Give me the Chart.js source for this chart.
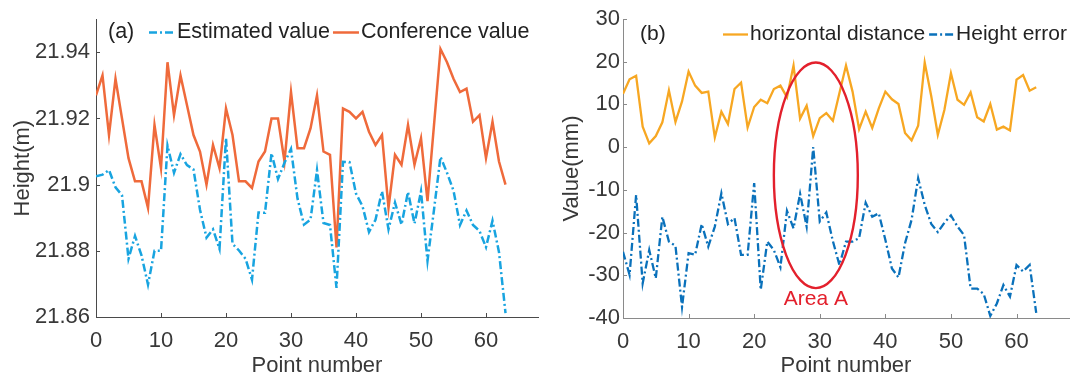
<!DOCTYPE html>
<html>
<head>
<meta charset="utf-8">
<script src="https://cdn.jsdelivr.net/npm/chart.js@4.4.0/dist/chart.umd.min.js"></script>
<style>
  html, body { margin: 0; padding: 0; background: #fff; }
  #wrap { position: relative; width: 1070px; height: 378px; overflow: hidden; }
  #chartA { position: absolute; left: 0; top: 0; }
  #chartB { position: absolute; left: 545px; top: 0; }
</style>
</head>
<body>
<div id="wrap">
  <canvas id="chartA" width="545" height="378"></canvas>
  <canvas id="chartB" width="525" height="378"></canvas>
</div>
<script>
// ---- data ----
const pointNumber = [0,1,2,3,4,5,6,7,8,9,10,11,12,13,14,15,16,17,18,19,20,21,22,23,24,25,26,27,28,29,30,31,
  32,33,34,35,36,37,38,39,40,41,42,43,44,45,46,47,48,49,50,51,52,53,54,55,56,57,58,59,60,61,62,63];

// (a) heights in metres
const estimatedValue = [21.9025,21.9030,21.9044,21.8992,21.8968,21.8776,21.8845,21.8786,21.8698,21.8800,
  21.8800,21.9118,21.9036,21.9092,21.9059,21.9046,21.8924,21.8840,21.8865,21.8806,
  21.9141,21.8821,21.8801,21.8776,21.8713,21.8916,21.8915,21.9095,21.9017,21.9066,
  21.9108,21.8958,21.8879,21.8894,21.9044,21.8884,21.8878,21.8688,21.9069,21.9068,
  21.8973,21.8935,21.8857,21.8894,21.8980,21.8865,21.8946,21.8879,21.8978,21.8882,
  21.8980,21.8770,21.8924,21.9084,21.9036,21.8982,21.8878,21.8922,21.8878,21.8860,
  21.8811,21.8891,21.8796,21.8612];
const conferenceValue = [21.927,21.933,21.915,21.932,21.920,21.908,21.901,21.901,21.893,21.918,
  21.905,21.937,21.921,21.933,21.924,21.915,21.910,21.900,21.912,21.905,
  21.923,21.915,21.901,21.901,21.899,21.907,21.910,21.920,21.920,21.907,
  21.928,21.911,21.911,21.917,21.927,21.910,21.909,21.881,21.923,21.922,
  21.920,21.922,21.916,21.912,21.915,21.893,21.909,21.906,21.918,21.906,
  21.914,21.895,21.918,21.941,21.937,21.932,21.928,21.929,21.919,21.921,
  21.908,21.919,21.907,21.900];

// (b) values in millimetres
const horizontalDistance = [12.5,15.9,16.7,4.8,0.9,2.6,5.8,13.3,5.9,10.7,
  17.7,14.4,12.7,13.0,2.3,8.3,5.4,13.6,15.1,4.6,
  9.4,11.1,10.3,13.6,14.4,11.7,19.1,6.7,9.7,2.6,
  6.8,8.0,6.2,12.7,19.1,13.0,4.2,8.3,4.5,9.1,
  13.0,11.2,10.1,3.3,1.6,5.0,19.8,11.9,2.9,8.7,
  17.3,11.1,9.9,12.8,7.0,6.0,10.1,4.1,4.8,3.9,
  15.8,16.9,13.2,14.0];
const heightError = [-24.5,-29.9,-11.2,-31.9,-24.1,-30.7,-16.3,-22.1,-23.1,-37.4,
  -24.8,-25.2,-18.0,-23.3,-18.6,-10.8,-18.0,-16.6,-25.2,-25.2,
  -8.4,-33.4,-22.1,-24.1,-28.1,-14.9,-19.0,-10.9,-18.6,0.0,
  -17.4,-15.3,-22.0,-27.6,-22.1,-22.1,-21.3,-13.0,-16.3,-15.5,
  -21.7,-28.4,-30.5,-22.5,-17.0,-7.3,-13.5,-18.0,-19.9,-17.7,
  -16.0,-18.6,-20.6,-33.1,-33.1,-34.4,-39.5,-36.6,-32.3,-35.0,
  -27.6,-29.1,-27.6,-38.8];

// tick labels
const xTicks = [0, 10, 20, 30, 40, 50, 60];
const yTicksA = [21.86, 21.88, 21.9, 21.92, 21.94];
const yTicksB = [-40, -30, -20, -10, 0, 10, 20, 30];

// highlighted region on panel (b): centre and half-extents in data units
const areaA = { label: 'Area A', cx: 29.4, cy: -6.6, rx: 6.4, ry: 26.4, labelY: -35.7 };

// ---- helpers ----
const FONT = '"Liberation Sans", Arial, Helvetica, sans-serif';
Chart.defaults.font.family = FONT;
const toPoints = ys => pointNumber.map((x, i) => ({ x, y: ys[i] }));

// MATLAB-style inward tick marks on the left and bottom axes
const inwardTicks = {
  id: 'inwardTicks',
  afterDatasetsDraw(chart, args, o) {
    const { ctx, chartArea } = chart;
    const xs = chart.scales.x, ys = chart.scales.y;
    ctx.save();
    ctx.strokeStyle = o.color;
    ctx.lineWidth = 1;
    ctx.beginPath();
    xs.ticks.forEach(t => {
      const px = Math.round(xs.getPixelForValue(t.value)) + 0.5;
      ctx.moveTo(px, chartArea.bottom);
      ctx.lineTo(px, chartArea.bottom - o.length);
    });
    ys.ticks.forEach(t => {
      const py = Math.round(ys.getPixelForValue(t.value)) + 0.5;
      ctx.moveTo(chartArea.left, py);
      ctx.lineTo(chartArea.left + o.length, py);
    });
    ctx.stroke();
    ctx.restore();
  }
};

// panel tag plus a single-row legend drawn inside the plot area
const insideLegend = {
  id: 'insideLegend',
  afterDraw(chart, args, o) {
    const ctx = chart.ctx;
    ctx.save();
    ctx.font = o.font;
    ctx.textBaseline = 'middle';
    ctx.fillStyle = o.color;
    ctx.fillText(o.tag, o.tagX, o.y);
    let x = o.x;
    chart.data.datasets.forEach(ds => {
      ctx.strokeStyle = ds.borderColor;
      ctx.lineWidth = ds.borderWidth;
      ctx.setLineDash(ds.borderDash || []);
      ctx.beginPath();
      ctx.moveTo(x, o.y + 0.5);
      ctx.lineTo(x + o.sample, o.y + 0.5);
      ctx.stroke();
      ctx.setLineDash([]);
      x += o.sample + o.gap;
      ctx.fillStyle = o.color;
      ctx.fillText(ds.label, x, o.y);
      x += ctx.measureText(ds.label).width + o.itemGap;
    });
    ctx.restore();
  }
};

// ellipse outlining a region, with a caption underneath
const regionMark = {
  id: 'regionMark',
  afterDatasetsDraw(chart, args, o) {
    if (!o.region) return;
    const { ctx } = chart;
    const xs = chart.scales.x, ys = chart.scales.y;
    const r = o.region;
    const cx = xs.getPixelForValue(r.cx), cy = ys.getPixelForValue(r.cy);
    const rx = Math.abs(xs.getPixelForValue(r.cx + r.rx) - cx);
    const ry = Math.abs(ys.getPixelForValue(r.cy + r.ry) - cy);
    ctx.save();
    ctx.strokeStyle = o.color;
    ctx.lineWidth = o.width;
    ctx.beginPath();
    ctx.ellipse(cx, cy, rx, ry, 0, 0, Math.PI * 2);
    ctx.stroke();
    ctx.fillStyle = o.color;
    ctx.font = o.font;
    ctx.textAlign = 'center';
    ctx.textBaseline = 'middle';
    ctx.fillText(r.label, cx, ys.getPixelForValue(r.labelY));
    ctx.restore();
  }
};

function axisOptions(cfg) {
  return {
    x: {
      type: 'linear', min: 0, max: 68,
      afterBuildTicks: s => { s.ticks = xTicks.map(v => ({ value: v })); },
      afterFit: s => { s.height = cfg.xHeight; },
      grid: { display: false, drawTicks: false, tickLength: 0 },
      border: { display: true, color: cfg.axisColor, width: 1 },
      ticks: { color: '#383838', font: { size: 22 }, padding: 11, maxRotation: 0, callback: v => String(v) },
      title: { display: true, text: 'Point number', color: '#383838', font: { size: 22, lineHeight: 1 }, padding: { top: 0, bottom: 1 } }
    },
    y: {
      type: 'linear', min: cfg.yMin, max: cfg.yMax,
      afterBuildTicks: s => { s.ticks = cfg.yTicks.map(v => ({ value: v })); },
      afterFit: s => { s.width = cfg.yWidth; },
      grid: { display: false, drawTicks: false, tickLength: 0 },
      border: { display: true, color: cfg.axisColor, width: 1 },
      ticks: { color: '#383838', font: { size: 22 }, padding: cfg.yPad, callback: v => String(v) },
      title: { display: true, text: cfg.yTitle, color: '#383838', font: { size: 22, lineHeight: 1.2 }, padding: { top: cfg.yTitlePad, bottom: 0 } }
    }
  };
}

const lineDefaults = { pointRadius: 0, tension: 0, fill: false, borderCapStyle: 'butt' };

// ---- (a) height comparison ----
new Chart(document.getElementById('chartA'), {
  type: 'line',
  data: {
    datasets: [
      Object.assign({ label: 'Estimated value', data: toPoints(estimatedValue), borderColor: '#18a4e0',
        borderWidth: 2.5, borderDash: [8, 3, 2, 3] }, lineDefaults),
      Object.assign({ label: 'Conference value', data: toPoints(conferenceValue), borderColor: '#ef6a3b',
        borderWidth: 2.5 }, lineDefaults)
    ]
  },
  options: {
    responsive: false, animation: false, devicePixelRatio: 1,
    layout: { padding: { left: 0, right: 7, top: 10, bottom: 0 } },
    scales: axisOptions({ xHeight: 61, yWidth: 96, yMin: 21.86, yMax: 21.95, yTicks: yTicksA,
      yTitle: 'Height(m)', yTitlePad: 10, yPad: 6, axisColor: '#4a4a4a' }),
    plugins: {
      legend: { display: false }, tooltip: { enabled: false },
      inwardTicks: { color: '#4a4a4a', length: 4 },
      insideLegend: { tag: '(a)', tagX: 108, x: 149, y: 32, sample: 26, gap: 2, itemGap: 3,
        font: '21.5px ' + FONT, color: '#222' }
    }
  },
  plugins: [inwardTicks, insideLegend]
});

// ---- (b) horizontal distance and height error ----
new Chart(document.getElementById('chartB'), {
  type: 'line',
  data: {
    datasets: [
      Object.assign({ label: 'horizontal distance', data: toPoints(horizontalDistance), borderColor: '#f7a722',
        borderWidth: 2.3 }, lineDefaults),
      Object.assign({ label: 'Height error', data: toPoints(heightError), borderColor: '#0a71bb',
        borderWidth: 2.3, borderDash: [8, 3, 2, 3] }, lineDefaults)
    ]
  },
  options: {
    responsive: false, animation: false, devicePixelRatio: 1,
    layout: { padding: { left: 0, right: 1, top: 19, bottom: 0 } },
    scales: axisOptions({ xHeight: 60, yWidth: 78, yMin: -40, yMax: 30, yTicks: yTicksB,
      yTitle: 'Value(mm)', yTitlePad: 14, yPad: 3, axisColor: '#8a8a8a' }),
    plugins: {
      legend: { display: false }, tooltip: { enabled: false },
      inwardTicks: { color: '#8a8a8a', length: 4 },
      insideLegend: { tag: '(b)', tagX: 95, x: 178, y: 34, sample: 25, gap: 2, itemGap: 4,
        font: '21px ' + FONT, color: '#222' },
      regionMark: { region: areaA, color: '#e3202c', width: 2.4, font: '21px ' + FONT }
    }
  },
  plugins: [inwardTicks, regionMark, insideLegend]
});
</script>
</body>
</html>
